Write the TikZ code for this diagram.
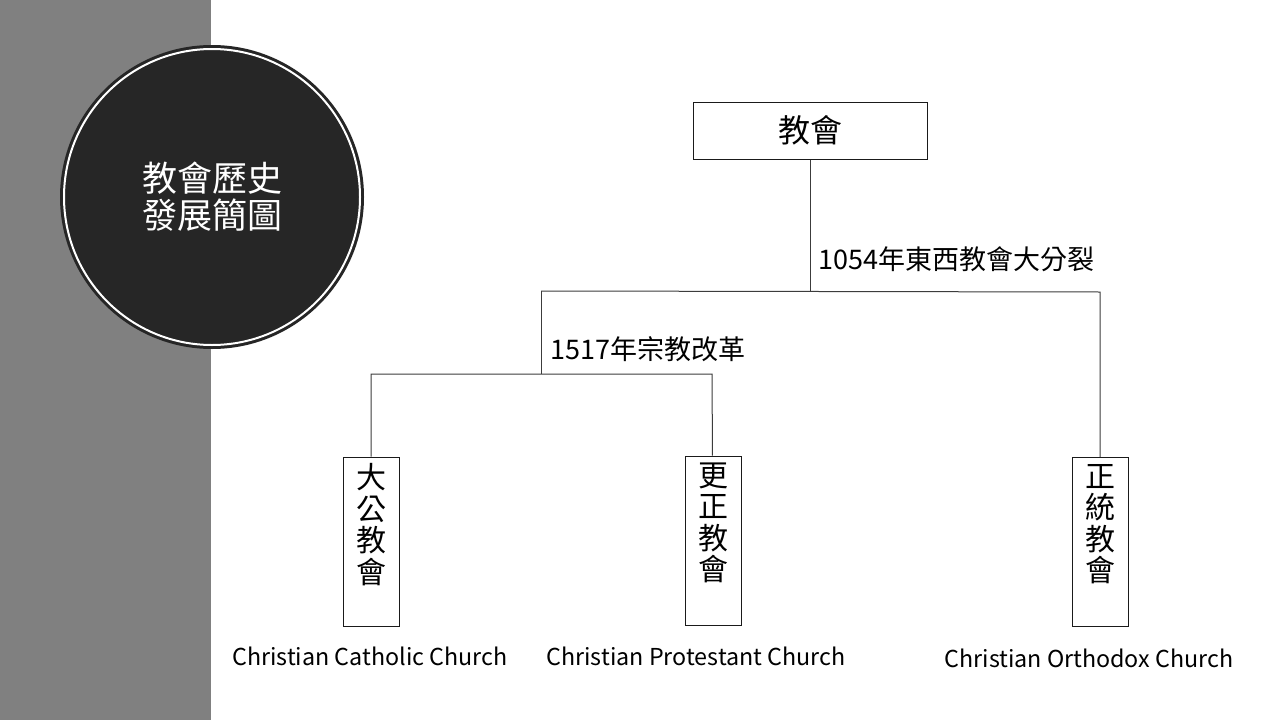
\documentclass[tikz,border=0pt]{standalone}
\usepackage{fontspec}
\setmainfont{Noto Sans CJK TC}
\usetikzlibrary{positioning}
\definecolor{chgray}{HTML}{808080}
\definecolor{chdark}{HTML}{262626}
\definecolor{chink}{HTML}{1A1A1A}
\tikzset{
  ln/.style={draw=chink!85, line width=1pt},
  topbox/.style={draw=chink, line width=1pt, minimum width=234pt, minimum height=57pt, inner sep=0pt, font=\fontsize{32}{34}\selectfont},
  vbox/.style={draw=chink, line width=1pt, minimum width=56pt, minimum height=169pt, inner sep=0pt},
  vchr/.style={align=center, inner sep=0pt, font=\fontsize{30}{31.5}\selectfont},
  lbl/.style={inner sep=0pt, font=\fontsize{27}{29}\selectfont},
  capt/.style={inner sep=0pt, font=\fontsize{23.3}{25}\selectfont},
  badge/.style={circle, fill=chdark, draw=chdark, line width=3pt, double=white, double distance=2pt, minimum size=296pt, text=white, align=center, font=\fontsize{35}{37}\selectfont},
}

\begin{document}
\begin{tikzpicture}[x=1pt, y=-1pt]
    \fill[white] (0,0) rectangle (1280,720);
    \fill[chgray] (0,0) rectangle (211,720);
    \useasboundingbox (0,0) rectangle (1280,720);
    \node[badge] (title) at (212,197) {教會歷史\\發展簡圖};
    \node[topbox] (root) at (810,130.5) {教會};
    \node[vbox] (cath) at (371,541.5) {};
    \node[vbox] (prot) at (713,540.5) {};
    \node[vbox] (orth) at (1100,542) {};
    \node[vchr, below=7pt of cath.north] (cathzh) {大\\公\\教\\會};
    \node[vchr, below=7pt of prot.north] (protzh) {更\\正\\教\\會};
    \node[vchr, below=7pt of orth.north] (orthzh) {正\\統\\教\\會};
    \coordinate (west) at (541,291);
    \coordinate (east) at (1100,292);
    \coordinate (lw) at (371,374);
    \coordinate (le) at (712,374);
    \draw[ln] (root) -- (root |- west);
    \draw[ln] (west) -- (east) -- (orth);
    \draw[ln] (west) -- (west |- lw);
    \draw[ln] (cath) -- (lw) -- (le) -- (prot);
    \node[lbl, anchor=west] (schism) at (818,259) {1054年東西教會大分裂};
    \node[lbl, anchor=west] (reform) at (550,349) {1517年宗教改革};
    \node[capt] (cathen) at (370,656) {Christian Catholic Church};
    \node[capt] (proten) at (696,656) {Christian Protestant Church};
    \node[capt] (orthen) at (1089,658) {Christian Orthodox Church};
\end{tikzpicture}
\end{document}
